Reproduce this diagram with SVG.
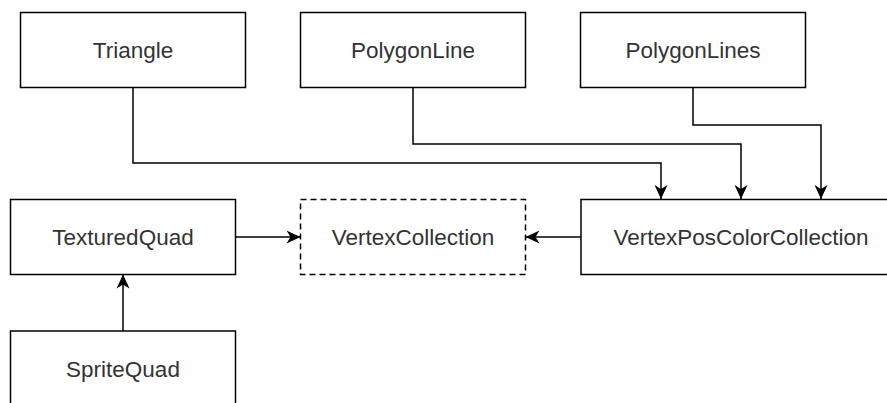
<svg xmlns="http://www.w3.org/2000/svg" width="887" height="403" viewBox="0 0 887 403">
<style>
.box{fill:#fff;stroke:#000;stroke-width:1.5}
.dash{stroke-dasharray:6 4}
.lbl{font-family:"Liberation Sans",Arial,Helvetica,sans-serif;font-size:22.5px;fill:#333;text-anchor:middle}
.edge{fill:none;stroke:#000;stroke-width:1.5;marker-end:url(#arr)}
</style>
<defs>
<marker id="arr" markerUnits="userSpaceOnUse" markerWidth="16" markerHeight="16" refX="14" refY="7" orient="auto">
<path d="M14,7 L0,0.5 L4,7 L0,13.5 Z" fill="#000"/>
</marker>
</defs>
<rect width="887" height="403" fill="#fff"/>
<g id="connectors">
<path class="edge" d="M133,88 V163 H661 V199"/>
<path class="edge" d="M413,88 V144 H741 V199"/>
<path class="edge" d="M693,88 V125 H821 V199"/>
<path class="edge" d="M581,237 H525.5"/>
<path class="edge" d="M235.5,237 H300.5"/>
<path class="edge" d="M123,331 V274.5"/>
</g>
<g id="Triangle"><rect class="box" x="20.5" y="12.5" width="225" height="75"/><text class="lbl" x="133" y="58">Triangle</text></g>
<g id="PolygonLine"><rect class="box" x="300.5" y="12.5" width="225" height="75"/><text class="lbl" x="413" y="58">PolygonLine</text></g>
<g id="PolygonLines"><rect class="box" x="580.5" y="12.5" width="225" height="75"/><text class="lbl" x="693" y="58">PolygonLines</text></g>
<g id="TexturedQuad"><rect class="box" x="10.5" y="199.5" width="225" height="75"/><text class="lbl" x="123" y="245">TexturedQuad</text></g>
<g id="VertexCollection"><rect class="box dash" x="300.5" y="199.5" width="225" height="75"/><text class="lbl" x="413" y="245">VertexCollection</text></g>
<g id="VertexPosColorCollection"><rect class="box" x="581" y="199.5" width="320" height="75"/><text class="lbl" x="741" y="245">VertexPosColorCollection</text></g>
<g id="SpriteQuad"><rect class="box" x="10.5" y="331" width="225" height="75"/><text class="lbl" x="123" y="376.5">SpriteQuad</text></g>
</svg>
